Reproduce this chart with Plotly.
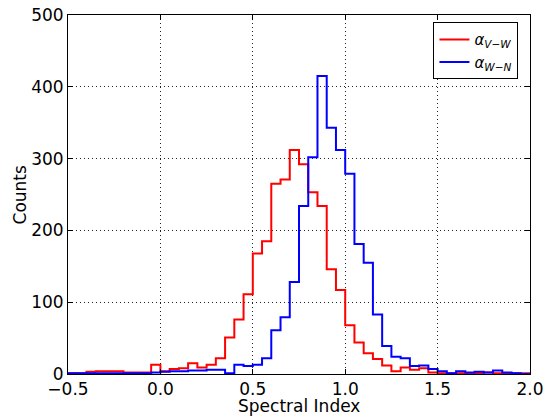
import numpy as np
import plotly.graph_objects as go

# Histogram bins: left edges from -0.5 to 1.95, width 0.05
bin_width = 0.05
bin_starts = [round(-0.5 + i * bin_width, 2) for i in range(50)]

counts_vw = [1, 1, 3, 4, 4, 4, 2, 2, 2, 13,
             4, 7, 8, 15, 9, 13, 22, 51, 76, 111,
             168, 185, 265, 271, 312, 292, 253, 234, 146, 117,
             68, 44, 29, 21, 12, 4, 9, 6, 8, 2,
             1, 1, 1, 0, 1, 2, 1, 1, 1, 1]

counts_wn = [1, 1, 1, 1, 1, 1, 1, 1, 1, 2,
             3, 4, 4, 5, 5, 6, 6, 1, 13, 11,
             13, 22, 61, 79, 128, 234, 302, 415, 343, 312,
             279, 181, 155, 83, 39, 24, 22, 11, 12, 7,
             4, 1, 4, 2, 3, 2, 5, 2, 1, 0]

x_ticks = [-0.5, 0.0, 0.5, 1.0, 1.5, 2.0]
y_ticks = [0, 100, 200, 300, 400, 500]
x_title = "Spectral Index"
y_title = "Counts"


def step_xy(starts, counts):
    edges = list(starts) + [round(starts[-1] + bin_width, 2)]
    xs = [edges[0]] + edges
    ys = [0] + list(counts) + [0]
    return xs, ys


fig = go.Figure()
x1, y1 = step_xy(bin_starts, counts_vw)
x2, y2 = step_xy(bin_starts, counts_wn)
fig.add_trace(go.Scatter(x=x1, y=y1, mode="lines", line=dict(color="#FF0000", width=2, shape="hv"),
                         name="<i>α</i><sub><i>V−W</i></sub>"))
fig.add_trace(go.Scatter(x=x2, y=y2, mode="lines", line=dict(color="#0000FF", width=2, shape="hv"),
                         name="<i>α</i><sub><i>W−N</i></sub>"))

axis_common = dict(
    showline=True, linecolor="black", linewidth=1, mirror="ticks",
    ticks="inside", ticklen=5, tickcolor="black", tickwidth=1,
    showgrid=True, gridcolor="#222222", griddash="1px,3px", gridwidth=1,
    zeroline=False, automargin=False,
    tickfont=dict(family="DejaVu Sans", size=17, color="black"),
)

fig.update_xaxes(range=[-0.5, 2.0], tickvals=x_ticks,
                 ticktext=[("−" if v < 0 else "") + f"{abs(v):.1f}" for v in x_ticks],
                 ticklabelstandoff=0,
                 **axis_common)
fig.update_yaxes(range=[0, 500], tickvals=y_ticks, **axis_common)

title_font = dict(family="DejaVu Sans", size=17, color="black")
fig.add_annotation(text=x_title, xref="paper", yref="paper", x=0.5, y=-0.088,
                   xanchor="center", yanchor="middle", showarrow=False, font=title_font)
fig.add_annotation(text=y_title, xref="paper", yref="paper", x=-0.104, y=0.5,
                   xanchor="center", yanchor="middle", showarrow=False, textangle=-90, font=title_font)

fig.update_layout(
    width=545, height=417,
    margin=dict(l=68, r=15, t=15, b=43),
    paper_bgcolor="white", plot_bgcolor="white",
    font=dict(family="DejaVu Sans", color="black"),
    legend=dict(x=0.975, y=0.98, xanchor="right", yanchor="top",
                bordercolor="black", borderwidth=1, bgcolor="white",
                font=dict(family="DejaVu Sans", size=15, color="black"),
                itemwidth=30, tracegroupgap=2),
    showlegend=True,
)

fig.write_html("out.html")
